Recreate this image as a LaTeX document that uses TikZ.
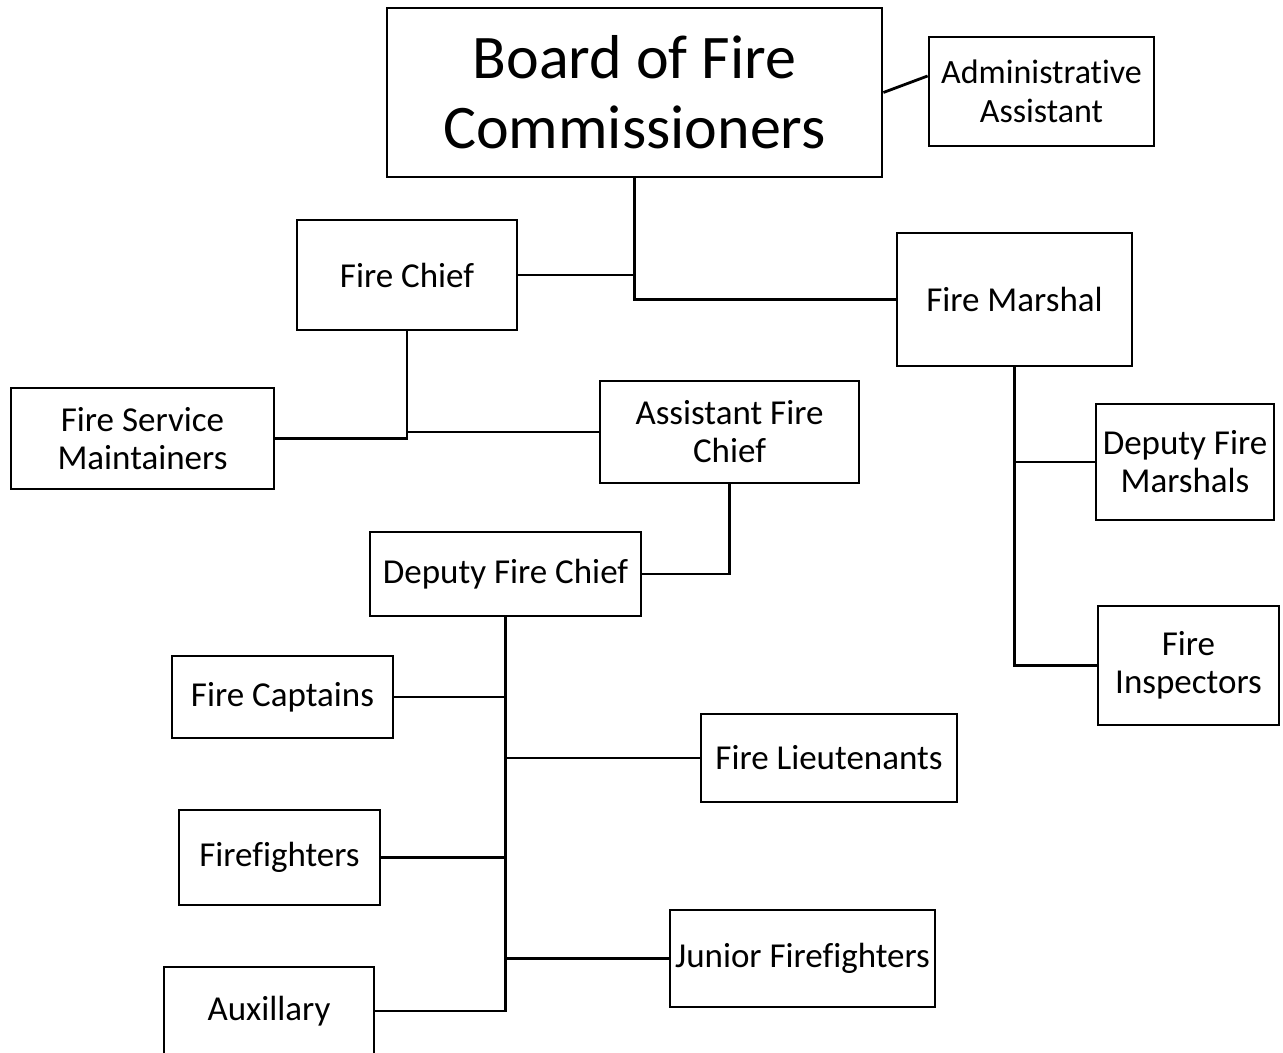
\documentclass[tikz,border=0pt]{standalone}
\usepackage{fontspec}
\setmainfont{Carlito}[Ligatures=NoCommon]
\usepackage{tikz}
\usetikzlibrary{positioning}

\begin{document}
\begin{tikzpicture}[x=0.5pt, y=-0.5pt,
            box/.style={draw, line width=1.4pt, align=center, inner sep=0pt,
              font=\fontsize{17.5}{19}\selectfont},
            big/.style={box, font=\fontsize{31}{35}\selectfont},
            small/.style={box, font=\fontsize{17}{19.5}\selectfont},
            link/.style={line width=1.4pt}]
          \useasboundingbox (0,0) rectangle (1283,1053);
          \clip (0,0) rectangle (1283,1053);
          \node[big, minimum width=247.5pt, minimum height=84.5pt] (board) at (634.5,92.5) {Board of Fire\\Commissioners};
          \node[small, minimum width=112.5pt, minimum height=54.5pt] (admin) at (1041.5,91.5) {Administrative\\Assistant};
          \node[box, minimum width=110pt, minimum height=55pt] (chief) at (407,275) {Fire Chief};
          \node[box, minimum width=117.5pt, minimum height=66.5pt] (marshal) at (1014.5,299.5) {Fire Marshal};
          \node[box, minimum width=131.5pt, minimum height=50.5pt] (maint) at (142.5,438.5) {Fire Service\\Maintainers};
          \node[box, minimum width=129.5pt, minimum height=51pt] (asst) at (729.5,432) {Assistant Fire\\Chief};
          \node[box, minimum width=135.5pt, minimum height=42pt] (deputy) at (505.5,574) {Deputy Fire Chief};
          \node[box, minimum width=89pt, minimum height=58pt] (dmarshal) at (1185,462) {Deputy Fire\\Marshals};
          \node[box, minimum width=90.5pt, minimum height=59.5pt] (insp) at (1188.5,665.5) {Fire\\Inspectors};
          \node[box, minimum width=110.5pt, minimum height=41pt] (capt) at (282.5,697) {Fire Captains};
          \node[box, minimum width=128pt, minimum height=44pt] (lieut) at (829,758) {Fire Lieutenants};
          \node[box, minimum width=100.5pt, minimum height=47.5pt] (ff) at (279.5,857.5) {Firefighters};
          \node[box, minimum width=132.5pt, minimum height=48.5pt] (junior) at (802.5,958.5) {Junior Firefighters};
          \node[box, minimum width=105pt, minimum height=44pt] (aux) at (269,1011) {Auxillary};
          \draw [link] (board.east) -- ([yshift=7.75pt]admin.west);
          \draw [link] (board.south) |- (marshal.west);
          \draw [link] (chief.east) -- (chief.east -| board.south);
          \draw [link] (chief.south) |- (maint.east);
          \draw [link] (asst.west) -- (asst.west -| chief.south);
          \draw [link] (asst.south) |- (deputy.east);
          \draw [link] (marshal.south) |- (insp.west);
          \draw [link] (dmarshal.west) -- (dmarshal.west -| marshal.south);
          \draw [link] (deputy.south) |- (aux.east);
          \draw [link] (capt.east) -- (capt.east -| deputy.south);
          \draw [link] (lieut.west) -- (lieut.west -| deputy.south);
          \draw [link] (ff.east) -- (ff.east -| deputy.south);
          \draw [link] (junior.west) -- (junior.west -| deputy.south);
        \end{tikzpicture}
\end{document}
